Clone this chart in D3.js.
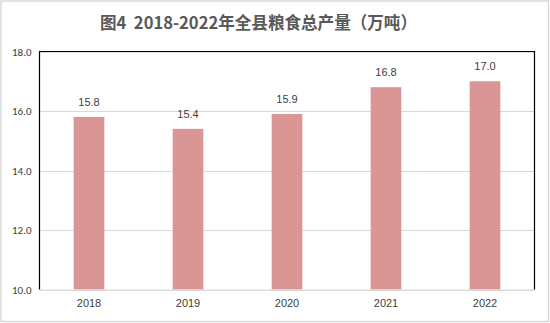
<!DOCTYPE html>
<html><head><meta charset="utf-8">
<script src="https://cdn.jsdelivr.net/npm/d3@7"></script>
<style>body{margin:0;background:#fff}svg{display:block}</style>
</head><body>
<svg id="c" width="550" height="323"></svg>
<script>
const categories = ["2018","2019","2020","2021","2022"];
const values = [15.8, 15.4, 15.9, 16.8, 17.0];
const yTicks = [10, 12, 14, 16, 18];
const title = "图4  2018-2022年全县粮食总产量（万吨）";

const svg = d3.select("#c");
const W = 550, H = 323;
const m = {left: 39.5, right: 534.5, top: 51.5, bottom: 289.5};

svg.append("rect").attr("x",1).attr("y",1).attr("width",W-2.5).attr("height",H-2.5)
  .attr("fill","#fff").attr("stroke","#d9d9d9").attr("stroke-width",1.5);

svg.append("text").attr("x",100).attr("y",29).attr("text-anchor","start")
  .style("white-space","pre")
  .attr("textLength",317).attr("lengthAdjust","spacingAndGlyphs")
  .attr("font-family","'Noto Sans CJK SC'").attr("font-weight","bold").attr("font-size",17)
  .attr("fill","#595959").text(title);

const x = d3.scaleBand().domain(categories).range([m.left, m.right]).paddingInner(0.69).paddingOuter(0.345);
const y = d3.scaleLinear().domain([10, 18]).range([m.bottom, m.top]);

// gridlines
svg.append("g").selectAll("line").data(yTicks).join("line")
  .attr("x1", m.left).attr("x2", m.right)
  .attr("y1", d => Math.round(y(d))+0.5).attr("y2", d => Math.round(y(d))+0.5)
  .attr("stroke", "#d9d9d9").attr("stroke-width",1);

// y axis labels
const yAxis = d3.axisLeft(y).tickValues(yTicks).tickFormat(d3.format(".1f")).tickSize(0).tickPadding(6);
const gy = svg.append("g").attr("transform",`translate(${m.left-2},0)`).call(yAxis);
gy.select(".domain").remove();
gy.selectAll("text").attr("font-family","Calibri, 'Liberation Sans', 'Noto Sans'").attr("font-size",11).attr("fill","#404040");

// bars
svg.append("g").selectAll("rect").data(values).join("rect")
  .attr("x",(d,i)=>x(categories[i])).attr("width",x.bandwidth())
  .attr("y",d=>y(d)).attr("height",d=>y(10)-y(d)).attr("fill","#d99694");

// value labels
svg.append("g").selectAll("text").data(values).join("text")
  .attr("x",(d,i)=>x(categories[i])+x.bandwidth()/2).attr("y",d=>y(d)-11)
  .attr("text-anchor","middle").attr("font-family","'Liberation Sans', 'Noto Sans'").attr("font-size",11)
  .attr("fill","#404040").text(d=>d3.format(".1f")(d));

// x axis
const xAxis = d3.axisBottom(x).tickSize(0).tickPadding(10);
const gx = svg.append("g").attr("transform",`translate(0,${m.bottom})`).call(xAxis);
gx.select(".domain").attr("stroke","#d9d9d9");
gx.selectAll("text").attr("font-family","'Liberation Sans', 'Noto Sans'").attr("font-size",11).attr("fill","#404040");

// black plot border (top, left, right)
svg.append("path").attr("d",`M${m.left},${m.bottom}V${m.top}H${m.right}V${m.bottom}`)
  .attr("fill","none").attr("stroke","#000").attr("stroke-width",1.2);
</script>
</body></html>
